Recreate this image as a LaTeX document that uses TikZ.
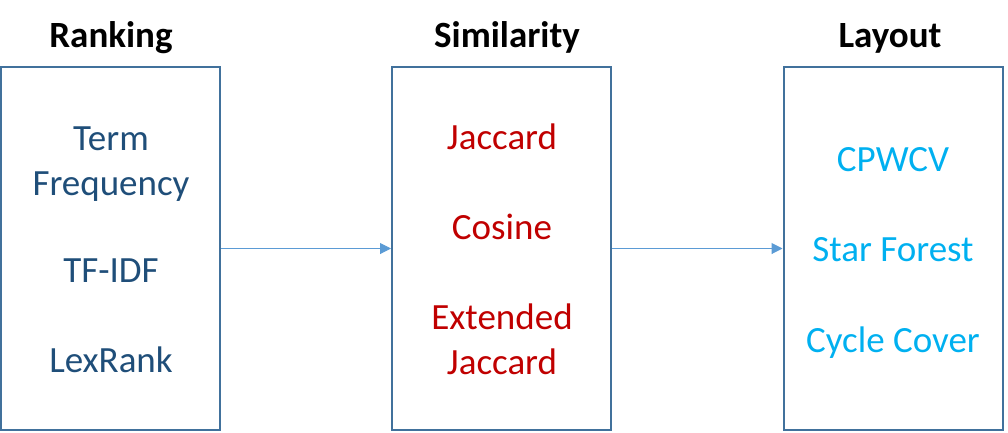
\documentclass[tikz,border=0pt]{standalone}
\usepackage{fontspec}
\setmainfont{Carlito}
\usetikzlibrary{arrows.meta}
\definecolor{boxblue}{HTML}{41719C}
\definecolor{arrowblue}{HTML}{5B9BD5}
\definecolor{darkblue}{HTML}{1F4E79}
\definecolor{darkred}{HTML}{C00000}
\definecolor{lightblue}{HTML}{00B0F0}
\tikzset{
  panel/.style={draw=boxblue, line width=2pt, minimum width=219pt, minimum height=363pt, inner sep=0pt},
  header/.style={font=\fontsize{37}{44}\selectfont\bfseries, text=black, anchor=base, inner sep=0pt},
  item/.style={font=\fontsize{37}{45}\selectfont, anchor=base, inner sep=0pt, align=center},
  link/.style={draw=arrowblue, line width=1pt, -{Triangle[length=11pt,width=11pt]}}
}
\begin{document}
\begin{tikzpicture}[x=1pt,y=-1pt]
\useasboundingbox (0,0) rectangle (1008,432);
\node[panel] (b1) at (110.5,248.5) {};
\node[panel] (b2) at (501.5,248.5) {};
\node[panel] (b3) at (893,248.5) {};
\node[header] (h1) at (111,47) {Ranking};
\node[header] (h2) at (507,47) {Similarity};
\node[header] (h3) at (890,47) {Layout};
\node[item, text=darkblue] (t1) at (111,195) {Term\\Frequency};
\node[item, text=darkblue] (t2) at (111,282) {TF-IDF};
\node[item, text=darkblue] (t3) at (111,372) {LexRank};
\node[item, text=darkred] (s1) at (502,149) {Jaccard};
\node[item, text=darkred] (s2) at (502,239) {Cosine};
\node[item, text=darkred] (s3) at (502,374) {Extended\\Jaccard};
\node[item, text=lightblue] (l1) at (893,171) {CPWCV};
\node[item, text=lightblue] (l2) at (893,261) {Star Forest};
\node[item, text=lightblue] (l3) at (893,352) {Cycle Cover};
\draw[link] (b1.east) -- (b2.west);
\draw[link] (b2.east) -- (b3.west);
\end{tikzpicture}
\end{document}
